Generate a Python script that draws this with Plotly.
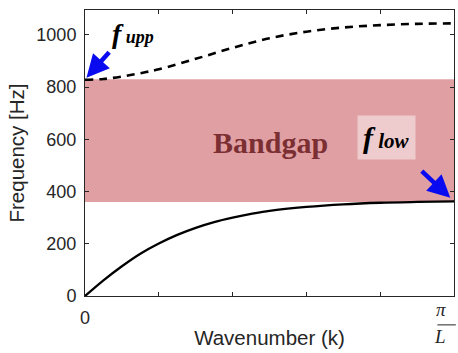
import math
import plotly.graph_objects as go

# ---- data ----
k_frac = [0.0, 0.05, 0.1, 0.15, 0.2, 0.25, 0.3, 0.35, 0.4, 0.45, 0.5, 0.6, 0.7, 0.8, 0.9, 1.0]
lower_branch = [0, 60, 114, 162, 201, 234, 261, 283, 300, 314, 326, 341, 351, 357, 360, 362]
upper_frac = [0.0, 0.05, 0.1, 0.15, 0.2, 0.3, 0.4, 0.5, 0.6, 0.7, 0.8, 0.9, 1.0]
upper_branch = [828, 831, 840, 853, 868, 908, 950, 987, 1012, 1028, 1037, 1042, 1044]
bandgap = [360, 830]
y_ticks = [0, 200, 400, 600, 800, 1000]
x_tick_frac = [0, 0.2, 0.4, 0.6, 0.8, 1.0]
x_tick_text = ["0", "", "", "", "", ""]

kmax = math.pi
kx_low = [t * kmax for t in k_frac]
kx_up = [t * kmax for t in upper_frac]

fig = go.Figure()

fig.add_shape(type="rect", x0=0, x1=kmax, y0=bandgap[0], y1=bandgap[1],
              fillcolor="#E0A0A3", line=dict(width=0), layer="below")

fig.add_trace(go.Scatter(x=kx_low, y=lower_branch, mode="lines", line=dict(color="black", width=2.3, shape="spline"),
                         showlegend=False, hoverinfo="skip"))
fig.add_trace(go.Scatter(x=kx_up, y=upper_branch, mode="lines",
                         line=dict(color="black", width=2.6, dash="8px,6px", shape="spline"),
                         showlegend=False, hoverinfo="skip"))

axis_col = "#262626"
fig.update_xaxes(range=[0, kmax], tickvals=[t * kmax for t in x_tick_frac], ticktext=x_tick_text,
                 ticks="inside", ticklen=4, tickcolor=axis_col, showline=True, linecolor=axis_col, linewidth=1,
                 mirror="ticks", showgrid=False, zeroline=False, ticklabelstandoff=5,
                 tickfont=dict(family="Liberation Sans", size=18, color=axis_col),
                 title=dict(text="Wavenumber (k)", font=dict(family="Liberation Sans", size=20.5, color=axis_col), standoff=4))
fig.update_yaxes(range=[0, 1095], tickvals=y_ticks,
                 ticks="inside", ticklen=4, tickcolor=axis_col, showline=True, linecolor=axis_col, linewidth=1,
                 mirror="ticks", showgrid=False, zeroline=False, ticklabelstandoff=4,
                 tickfont=dict(family="Liberation Sans", size=18, color=axis_col),
                 title=dict(text="Frequency [Hz]", font=dict(family="Liberation Sans", size=20.5, color=axis_col), standoff=6))

serif = "Liberation Serif"
annots = [
    dict(x=0.503 * kmax, y=586, xref="x", yref="y", text="<b>Bandgap</b>", showarrow=False,
         font=dict(family=serif, size=30, color="#7B2F33")),
    dict(x=0.068, y=0.98, xref="paper", yref="paper", xanchor="left",
         text="<b><i>f</i></b><span style='font-size:18px'><b><i> upp</i></b></span>",
         showarrow=False, font=dict(family=serif, size=28, color="black")),
    dict(x=0.738, y=0.555, xref="paper", yref="paper", xanchor="left",
         text="<b><i>f</i></b><span style='font-size:21px'><b><i> low</i></b></span>",
         showarrow=False, font=dict(family=serif, size=30, color="black"),
         bgcolor="rgba(255,255,255,0.45)", borderpad=5),
    dict(x=0.004 * kmax, y=upper_branch[0] + 8, xref="x", yref="y", ax=24, ay=-27,
         showarrow=True, arrowhead=2, arrowsize=1.0, arrowwidth=4.5, arrowcolor="#0A0AF0", text=""),
    dict(x=0.99 * kmax, y=lower_branch[-1] + 14, xref="x", yref="y", ax=-30, ay=-28,
         showarrow=True, arrowhead=2, arrowsize=1.0, arrowwidth=4.5, arrowcolor="#0A0AF0", text=""),
    dict(x=0.985, y=-0.09, xref="paper", yref="paper", text="<i>π</i>", showarrow=False,
         font=dict(family=serif, size=19, color=axis_col)),
    dict(x=0.985, y=-0.185, xref="paper", yref="paper", text="<i>L</i>", showarrow=False,
         font=dict(family=serif, size=19, color=axis_col)),
]
fig.update_layout(annotations=annots)
fig.add_shape(type="line", xref="paper", yref="paper", x0=0.955, x1=1.005, y0=-0.101, y1=-0.101,
              line=dict(color=axis_col, width=1))

fig.update_layout(width=458, height=353, margin=dict(l=85, r=4, t=10, b=57),
                  plot_bgcolor="white", paper_bgcolor="white")

fig.write_html("out.html")
